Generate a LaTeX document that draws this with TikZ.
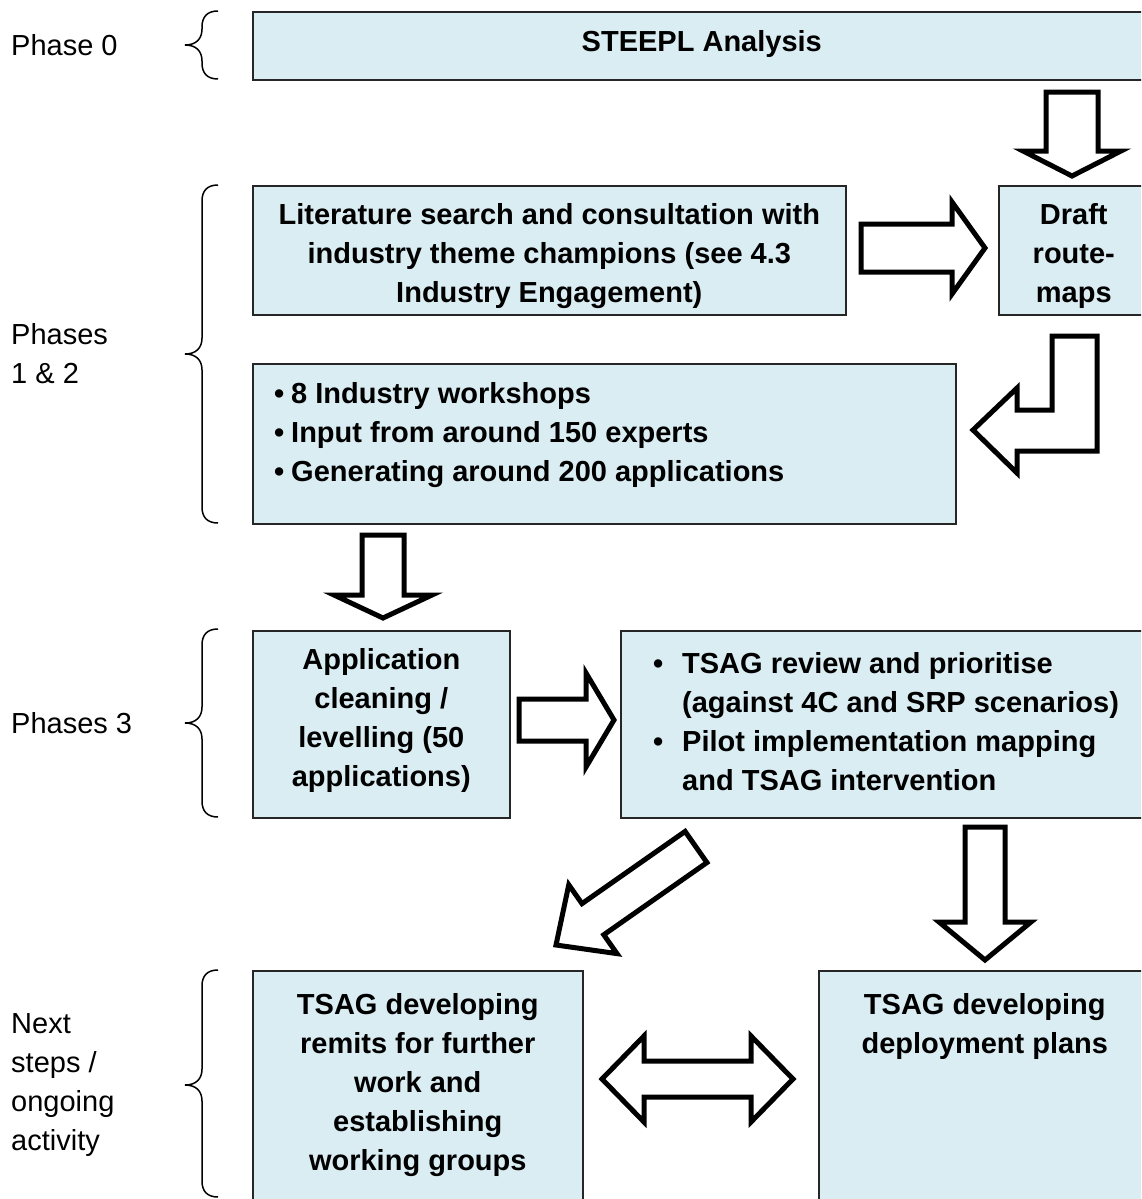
\documentclass[tikz,border=0pt]{standalone}
\usepackage{fontspec}
\setmainfont{Liberation Sans}
\usepackage{tikz}
\usetikzlibrary{calc,positioning}
\definecolor{boxblue}{RGB}{218,237,243}

\tikzset{
  box/.style={draw=black!85, line width=1.6pt, fill=boxblue, anchor=north west, inner sep=0pt},
  boxtext/.style={font=\fontsize{29}{39}\selectfont\bfseries, align=center, inner sep=0pt, anchor=north},
  listtext/.style={font=\fontsize{29}{39}\selectfont\bfseries, align=left, inner sep=0pt, anchor=north west},
  phase/.style={font=\fontsize{29}{39}\selectfont, align=left, inner sep=0pt, anchor=west},
  blockarrow/.style={draw=black, line width=5pt, fill=white, line join=miter},
  bracestyle/.style={draw=black, line width=1.5pt}
}

\newcommand{\bulitem}[1][17pt]{\makebox[#1][l]{\textbullet}}

% tail, tip, half shaft, half head, head length
\newcommand{\fatarrow}[5]{%
  \coordinate (fab) at ($(#2)!#5!(#1)$);
  \draw[blockarrow] ($(#1)!#3!90:(#2)$) -- ($(fab)!#3!90:(#2)$) -- ($(fab)!#4!90:(#2)$) -- (#2)
    -- ($(fab)!#4!-90:(#2)$) -- ($(fab)!#3!-90:(#2)$) -- ($(#1)!#3!-90:(#2)$) -- cycle;
}
\newcommand{\twinarrow}[5]{%
  \coordinate (tab) at ($(#1)!#5!(#2)$);
  \coordinate (tac) at ($(#2)!#5!(#1)$);
  \draw[blockarrow] (#1) -- ($(tab)!#4!90:(#2)$) -- ($(tab)!#3!90:(#2)$) -- ($(tac)!#3!-90:(#1)$)
    -- ($(tac)!#4!-90:(#1)$) -- (#2) -- ($(tac)!#4!90:(#1)$) -- ($(tac)!#3!90:(#1)$)
    -- ($(tab)!#3!-90:(#2)$) -- ($(tab)!#4!-90:(#2)$) -- cycle;
}
% top, tip, bottom
\newcommand{\phasebrace}[3]{%
  \draw[bracestyle] (218,#1) .. controls (207,#1) and (202,#1+6) .. (202,#1+16) -- (202,#2-16)
    .. controls (202,#2-6) and (196,#2) .. (185,#2) .. controls (196,#2) and (202,#2+6) .. (202,#2+16)
    -- (202,#3-16) .. controls (202,#3-6) and (207,#3) .. (218,#3);
}

\begin{document}
\begin{tikzpicture}[x=1pt, y=-1pt]
\useasboundingbox (0,0) rectangle (1141,1199);
\clip (0,0) rectangle (1141,1199);

\node[box, minimum width=898pt, minimum height=68pt] (steepl) at (252,11) {};
\node[box, minimum width=593pt, minimum height=129pt] (lit) at (252,185) {};
\node[box, minimum width=150pt, minimum height=129pt] (draft) at (998,185) {};
\node[box, minimum width=703pt, minimum height=160pt] (bul) at (252,363) {};
\node[box, minimum width=257pt, minimum height=187pt] (app) at (252,630) {};
\node[box, minimum width=530pt, minimum height=187pt] (rev) at (620,630) {};
\node[box, minimum width=330pt, minimum height=245pt] (remit) at (252,970) {};
\node[box, minimum width=332pt, minimum height=245pt] (deploy) at (818,970) {};

\node[boxtext, below=19pt of steepl.north] (steepltxt) {STEEPL Analysis};
\node[boxtext, below=18pt of lit.north] (littxt) {Literature search and consultation with\\industry theme champions (see 4.3\\Industry Engagement)};
\node[boxtext, below=18pt of draft.north] (drafttxt) {Draft\\route-\\maps};
\node[listtext, below right=19pt and 22pt of bul.north west] (bultxt) {\bulitem 8 Industry workshops\\\bulitem Input from around 150 experts\\\bulitem Generating around 200 applications};
\node[boxtext, below=18pt of app.north] (apptxt) {Application\\cleaning /\\levelling (50\\applications)};
\node[listtext, below right=22pt and 33pt of rev.north west] (revtxt) {\bulitem[29pt]TSAG review and prioritise\\\hspace*{29pt}(against 4C and SRP scenarios)\\\bulitem[29pt]Pilot implementation mapping\\\hspace*{29pt}and TSAG intervention};
\node[boxtext, below=23pt of remit.north] (remittxt) {TSAG developing\\remits for further\\work and\\establishing\\working groups};
\node[boxtext, below=23pt of deploy.north] (deploytxt) {TSAG developing\\deployment plans};

\node[phase] (ph0) at (11,45) {Phase 0};
\node[phase] (ph12) at (11,354) {Phases\\1 \& 2};
\node[phase] (ph3) at (11,723) {Phases 3};
\node[phase] (phnext) at (11,1085) {Next\\steps /\\ongoing\\activity};

\phasebrace{11}{45}{79}
\phasebrace{185}{354}{523}
\phasebrace{629}{723}{817}
\phasebrace{970}{1085}{1197}

\coordinate (a1s) at (1072,92);  \coordinate (a1e) at (1072,176);
\coordinate (a2s) at (861,248);  \coordinate (a2e) at (985,248);
\coordinate (a4s) at (383,535);  \coordinate (a4e) at (383,618);
\coordinate (a5s) at (519,720);  \coordinate (a5e) at (614,720);
\coordinate (a6s) at (696,847);  \coordinate (a6e) at (556,945);
\coordinate (a7s) at (985,827);  \coordinate (a7e) at (985,960);
\coordinate (a8s) at (602,1079); \coordinate (a8e) at (793,1079);

\fatarrow{a1s}{a1e}{26pt}{49pt}{25pt}
\fatarrow{a2s}{a2e}{24pt}{46pt}{33pt}
\fatarrow{a4s}{a4e}{21pt}{49pt}{23pt}
\fatarrow{a5s}{a5e}{21pt}{47pt}{28pt}
\fatarrow{a6s}{a6e}{19pt}{42pt}{45pt}
\fatarrow{a7s}{a7e}{20pt}{46pt}{38pt}
\twinarrow{a8s}{a8e}{18pt}{43pt}{42pt}

% bent arrow from the route-maps back to the workshops
\draw[blockarrow] (1052,336) -- (1097,336) -- (1097,451) -- (1017,451) -- (1017,473) -- (973,430)
  -- (1017,388) -- (1017,410) -- (1052,410) -- cycle;
\end{tikzpicture}
\end{document}
